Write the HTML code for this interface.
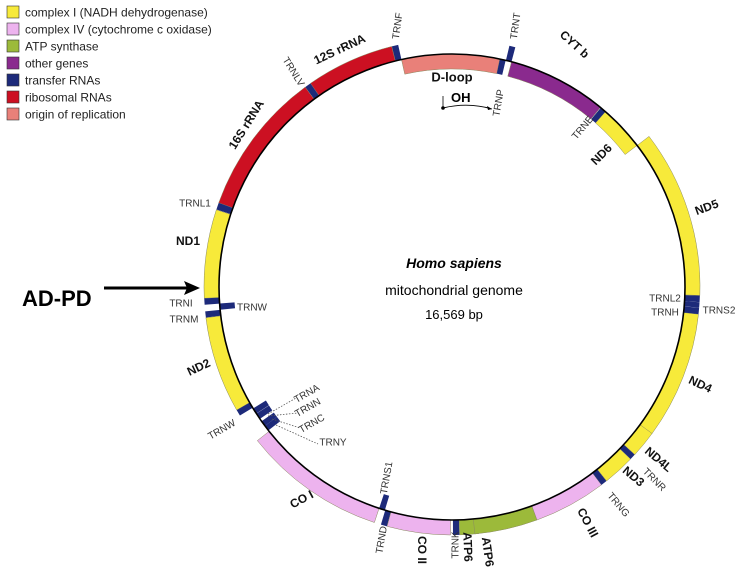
<!DOCTYPE html>
<html><head><meta charset="utf-8"><style>
html,body{margin:0;padding:0;background:#fff;}
svg{display:block;font-family:"Liberation Sans",Arial,sans-serif;}
</style></head><body>
<svg id="map" width="746" height="575" viewBox="0 0 746 575" xmlns="http://www.w3.org/2000/svg">
<g id="legend"></g>
<g id="genes"></g>
<circle cx="452" cy="287" r="233" fill="none" stroke="#000" stroke-width="1.6"/>
<g id="labels"></g>
<g>
<text x="454" y="268" text-anchor="middle" font-size="14" font-weight="bold" font-style="italic">Homo sapiens</text>
<text x="454" y="295" text-anchor="middle" font-size="14">mitochondrial genome</text>
<text x="454" y="319" text-anchor="middle" font-size="13">16,569 bp</text>
</g>
<g>
<text x="451" y="102" font-size="13" font-weight="bold">OH</text>
<line x1="443" y1="96" x2="443" y2="108" stroke="#000" stroke-width="0.8"/>
<circle cx="443" cy="108" r="1.8" fill="#000"/>
<path d="M443 108 Q468 102 492 109" fill="none" stroke="#000" stroke-width="0.9"/>
<path d="M492 109 l-5 -3 l1 4 z" fill="#000"/>
</g>
<g>
<text x="22" y="306" font-size="22" font-weight="bold">AD-PD</text>
<line x1="104" y1="288" x2="188" y2="288" stroke="#000" stroke-width="3"/>
<path d="M200 288 L184 281 L187 288 L184 295 Z" fill="#000"/>
</g>
<g stroke="#555" stroke-width="0.8" stroke-dasharray="1.5,1.5" fill="none">
<line x1="268" y1="414" x2="296" y2="398"/>
<line x1="268" y1="416" x2="298" y2="413"/>
<line x1="272" y1="419" x2="300" y2="428"/>
<line x1="276" y1="425" x2="318" y2="444"/>
</g>
</svg>
<script>
const L = 16569;
const cx = 452, cy = 287, R = 233, W = 15;
const legendNames = ["complex I (NADH dehydrogenase)","complex IV (cytochrome c oxidase)","ATP synthase","other genes","transfer RNAs","ribosomal RNAs","origin of replication"];
const legendColors = ["#f7ea3a","#edb3ee","#9cba3a","#8a2a8e","#1d2a7a","#cc1022","#e98079"];
const geneNames = ["D-loop","TRNF","12S","TRNV","16S","TRNL1","ND1","TRNI","TRNQ","TRNM","ND2","TRNW","TRNA","TRNN","TRNC","TRNY","COI","TRNS1","TRND","COII","TRNK","ATP8","ATP6","COIII","TRNG","ND3","TRNR","ND4L","ND4","TRNH","TRNS2","TRNL2","ND5","ND6","TRNE","CYTB","TRNT","TRNP"];
const geneStart = [16024,577,648,1602,1671,3230,3307,4263,4329,4402,4470,5512,5587,5657,5761,5826,5904,7446,7518,7586,8295,8366,8527,9207,9991,10059,10405,10470,10760,12138,12207,12266,12337,14149,14674,14747,15888,15956];
const geneEnd   = [576,647,1601,1670,3229,3304,4262,4331,4400,4469,5511,5579,5655,5729,5826,5891,7445,7514,7585,8269,8364,8572,9207,9990,10058,10404,10469,10766,12137,12206,12265,12336,14148,14673,14742,15887,15953,16023];
const geneType  = [6,4,5,4,5,4,0,4,4,4,0,4,4,4,4,4,1,4,4,1,4,2,2,1,4,0,4,0,0,4,4,4,0,0,4,3,4,4];
const geneInner = [1,0,0,0,0,0,0,0,1,0,0,0,1,1,1,1,0,1,0,0,0,0,0,0,0,0,0,0,0,0,0,0,0,1,1,1,0,1];

const NS = "http://www.w3.org/2000/svg";
function ang(pos){ return -pos / L * 2 * Math.PI; }
function pt(a, r){ return [cx + r * Math.sin(a), cy - r * Math.cos(a)]; }
function sector(s, e, r1, r2){
  let span = (e - s + L) % L;
  const a1 = ang(s), a2 = ang(s + span);
  const large = span / L > 0.5 ? 1 : 0;
  const p1 = pt(a1, r2), p2 = pt(a2, r2), p3 = pt(a2, r1), p4 = pt(a1, r1);
  return `M${p1[0]} ${p1[1]} A${r2} ${r2} 0 ${large} 0 ${p2[0]} ${p2[1]} L${p3[0]} ${p3[1]} A${r1} ${r1} 0 ${large} 1 ${p4[0]} ${p4[1]} Z`;
}

const lg = document.getElementById('legend');
legendNames.forEach((n, i) => {
  const y = 6 + i * 17;
  const r = document.createElementNS(NS, 'rect');
  r.setAttribute('x', 7); r.setAttribute('y', y); r.setAttribute('width', 12); r.setAttribute('height', 12);
  r.setAttribute('fill', legendColors[i]); r.setAttribute('stroke', '#333'); r.setAttribute('stroke-width', '0.6');
  
  
  lg.appendChild(r);
  const t = document.createElementNS(NS, 'text');
  t.setAttribute('x', 25); t.setAttribute('y', y + 10.5); t.setAttribute('font-size', '12'); t.setAttribute('fill', '#222');
  t.textContent = n;
  
  
  lg.appendChild(t);
});

const gg = document.getElementById('genes');
geneNames.forEach((n, i) => {
  const inner = geneInner[i];
  const r1 = inner ? R - W : R, r2 = inner ? R : R + W;
  const p = document.createElementNS(NS, 'path');
  p.setAttribute('d', sector(geneStart[i], geneEnd[i], r1, r2));
  p.setAttribute('fill', legendColors[geneType[i]]);
  p.setAttribute('stroke', geneType[i] === 4 ? 'none' : '#8a8a60');
  p.setAttribute('stroke-width', '0.5');
  
  
  gg.appendChild(p);
});

const labelText = ["12S rRNA","16S rRNA","TRNLV","TRNF","TRNT","D-loop","TRNP","CYT b","TRNE","ND6","ND5","TRNL2","TRNH","TRNS2","ND4","ND4L","TRNR","ND3","TRNG","CO III","ATP6","ATP6","TRNK","CO II","TRND","TRNS1","CO I","TRNW","TRNA","TRNN","TRNC","TRNY","ND2","TRNI","TRNM","TRNW","ND1","TRNL1"];
const lx = [340,247,293,398,516,452,499,574,583,602,707,665,665,719,700,658,654,633,618,587,487,467,456,421,382,387,302,222,307,308,312,333,199,181,184,252,188,195];
const ly = [50,125,72,26,26,78,103,45,128,155,208,299,313,311,385,460,480,477,505,523,552,547,545,550,540,478,500,430,394,408,424,443,368,304,320,308,242,204];
const lr = [-25,-58,58,-82,-82,0,-80,42,-50,-45,-20,0,0,0,25,40,45,40,50,62,82,88,-90,90,-80,-80,-28,-30,-30,-30,-30,0,-25,0,0,0,0,0];
const lbig = [1,1,0,0,0,1,0,1,0,1,1,0,0,0,1,1,0,1,0,1,1,1,0,1,0,0,1,0,0,0,0,0,1,0,0,0,1,0];
const lgp = document.getElementById('labels');
labelText.forEach((s, i) => {
  const t = document.createElementNS(NS, 'text');
  t.setAttribute('x', lx[i]); t.setAttribute('y', ly[i]);
  t.setAttribute('text-anchor', 'middle'); t.setAttribute('dominant-baseline', 'middle');
  t.setAttribute('font-size', lbig[i] ? (s === 'D-loop' ? '13' : '12') : '10');
  if (lbig[i]) t.setAttribute('font-weight', 'bold');
  t.setAttribute('fill', lbig[i] ? '#111' : '#333');
  t.setAttribute('transform', `rotate(${lr[i]} ${lx[i]} ${ly[i]})`);
  t.textContent = s;
  
  
  lgp.appendChild(t);
});
</script>
</body></html>
